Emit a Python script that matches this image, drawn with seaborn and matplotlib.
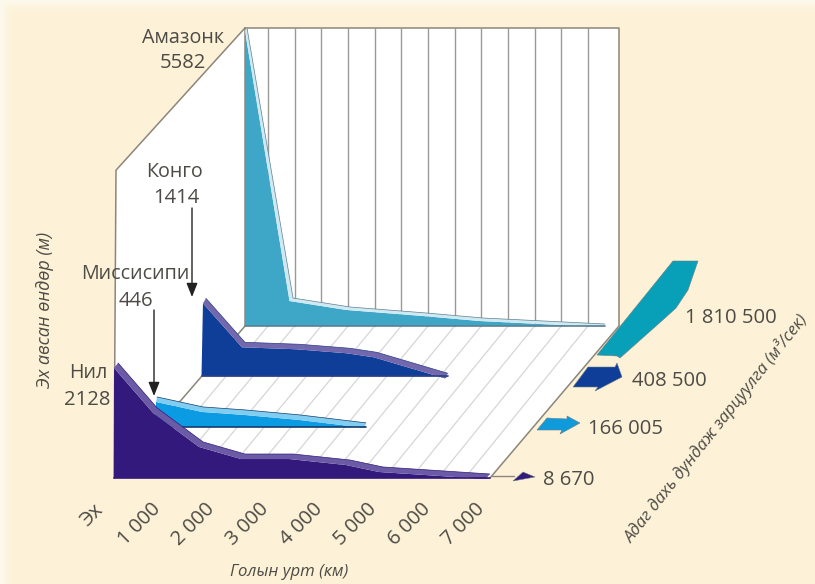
import numpy as np
import pandas as pd
import matplotlib
matplotlib.use("Agg")
import matplotlib.pyplot as plt
import seaborn as sns

# ---- data ----
river_names = ["Амазонк", "Конго", "Миссисипи", "Нил"]
river_source = ["5582", "1414", "446", "2128"]
discharge_labels = ["1 810 500", "408 500", "166 005", "8 670"]

amazon_km = [107, 970, 2040, 3480, 4530, 6820]
amazon_elev = [5520, 518, 352, 240, 148, 37]
congo_km = [127, 855, 1880, 2815, 3320, 4645]
congo_elev = [1444, 630, 593, 519, 444, 55]
miss_km = [5, 860, 1640, 2665, 3890]
miss_elev = [555, 370, 315, 222, 75]
nile_km = [75, 800, 1650, 2425, 3315, 4370, 4980, 6960]
nile_elev = [2130, 1296, 667, 444, 444, 333, 204, 74]

tick_km = [1000, 2000, 3000, 4000, 5000, 6000, 7000]
tick_labels = ["1 000", "2 000", "3 000", "4 000", "5 000", "6 000", "7 000"]
grid_km = list(range(500, 7000, 500))

# ---- oblique projection (km, metres, depth) -> canvas ----
def project(km, elev, depth):
    km, elev, depth = np.asarray(km, float), np.asarray(elev, float), np.asarray(depth, float)
    x = 114 + 127.3 * depth + (54 - 0.67 * depth) * km / 1000
    y = 478 - 152 * depth - 0.054 * elev
    return x, y

sns.set_theme(style="white")
BG = "#FDF2D8"
fig = plt.figure(figsize=(8.15, 5.84), dpi=100, facecolor=BG)
ax = fig.add_axes([0, 0, 1, 1])
ax.set_xlim(0, 815)
ax.set_ylim(584, 0)
ax.axis("off")
plt.rcParams["font.family"] = ["Open Sans", "DejaVu Sans"]

for edge_w, shade in [(12, "#FDF3DB"), (9, "#FDF4DF"), (6, "#FDF6E4"), (3, "#FDF8EC")]:
    ax.axhspan(0, edge_w, color=shade, lw=0, zorder=0)
    ax.axvspan(0, edge_w, color=shade, lw=0, zorder=0)

EDGE = "#8C867A"
GRID = "#D6D6D6"
TEXT = "#4D4B45"

# walls and floor
wx, wy = project([0, 0, 0, 0], [0, 5700, 5520, 0], [0, 0, 1, 1])
wx[1] += 2; wx[2] += 3.7; wx[3] += 3.7
ax.fill(wx, wy, color="white", lw=0, zorder=1)
fx, fy = project([0, 6963, 7082, 70], [0, 0, 0, 0], [0, 0, 1, 1])
ax.fill(fx, fy, color="white", lw=0, zorder=1)
bx, by = project([70, 7082, 7082, 70], [5520, 5520, 0, 0], [1, 1, 1, 1])
ax.fill(bx, by, color="white", lw=0, zorder=1)
ax.plot(wx[[0, 1, 2]], wy[[0, 1, 2]], color=EDGE, lw=1.1, zorder=2)
ax.plot(bx[[0, 1, 2]], by[[0, 1, 2]], color=EDGE, lw=1.1, zorder=2)
ax.plot([bx[0], bx[3]], [by[0], by[3]], color=EDGE, lw=1.1, zorder=2)
ax.plot(fx[[1, 2]], fy[[1, 2]], color=EDGE, lw=1.1, zorder=2)
ax.plot([fx[3], fx[0]], [fy[3], fy[0]], color=EDGE, lw=1.1, zorder=2)

# wall verticals and floor diagonals
rows = []
for km in grid_km:
    x0, y0 = project(km, 0, 1)
    x1, y1 = project(km, 5520, 1)
    rows += [dict(x=float(x0), y=float(y0), u=km), dict(x=float(x1), y=float(y1), u=km)]
sns.lineplot(data=pd.DataFrame(rows), x="x", y="y", units="u", estimator=None, sort=False,
             color="#9A9A96", lw=1.0, ax=ax, legend=False, zorder=2)
rows = []
for km in grid_km:
    x0, y0 = project(km, 0, 0)
    x1, y1 = project(km, 0, 1)
    rows += [dict(x=float(x0), y=float(y0), u=km), dict(x=float(x1), y=float(y1), u=km)]
sns.lineplot(data=pd.DataFrame(rows), x="x", y="y", units="u", estimator=None, sort=False,
             color=GRID, lw=0.9, ax=ax, legend=False, zorder=2)

# rivers, back to front
def river(km, elev, depth, body, band, shift, left, z, base_color):
    tx, ty = project(km, elev, depth)
    bx_ = np.maximum(tx - shift[0], left)
    by_ = ty + shift[1]
    _, base = project(0, 0, depth)
    ax.fill(np.r_[left, bx_, tx[-1]], np.r_[base, by_, base], color=body, lw=0, zorder=z)
    ax.fill(np.r_[tx, bx_[::-1]], np.r_[ty, by_[::-1]], color=band, lw=0, zorder=z + 0.1)
    ax.plot([left, tx[-1]], [base, base], color=base_color, lw=1.2, zorder=z + 0.2)
    sns.lineplot(x=tx, y=ty, sort=False, estimator=None, color=base_color, lw=0.5, ax=ax,
                 legend=False, zorder=z + 0.2)

river(amazon_km, amazon_elev, 1.0, "#3EA7C7", "#CFE9F2", (3.5, 3), 245, 3, "#5F7F90")
river(congo_km, congo_elev, 0.669, "#0F3E98", "#7367AE", (3, 5), 201.5, 4, "#2A3E88")
river(miss_km, miss_elev, 0.336, "#0A9BE2", "#7FCDF0", (1, 5), 155, 5, "#143C6E")
river(nile_km, nile_elev, 0.0, "#33197B", "#6B5AA6", (4, 5), 114, 6, "#33197B")

# discharge arrows: glyph outlines in local canvas offsets from their anchors
arrow_amazon = np.array([(0, 0), (76, -94), (101, -94), (91, -65), (79, -47), (68, -37), (23, 3), (20, 1)])
arrow_congo = np.array([(0, 0), (15, -20), (42, -20), (44, -24), (49, -10), (22, 4), (25, 0)])
arrow_miss = np.array([(0, 0), (10, -12), (30, -11), (30, -14), (43, -7), (23, 4), (25, 0)])
arrow_nile = np.array([(0, 0), (10, -9), (22, -4)])
for shape, anchor, col in [(arrow_amazon, (597, 355), "#07A0B8"), (arrow_congo, (573, 387), "#0F3E98"),
                           (arrow_miss, (537, 430), "#0F9BDB"), (arrow_nile, (513, 481), "#33197B")]:
    ax.fill(shape[:, 0] + anchor[0], shape[:, 1] + anchor[1], color=col, ec="#6C7C84", lw=0.4, zorder=7)
ax.plot([492, 514], [476, 476], color=EDGE, lw=1, zorder=6)

# labels
kw = dict(color=TEXT, ha="center", va="center", fontsize=14.2, zorder=9)
num = {**kw, "fontsize": 14.6}
for name, val, (nx, ny), (vx, vy) in zip(river_names, river_source,
        [(183, 38), (175, 172), (135, 274), (88, 373)], [(183, 63), (176, 198), (136, 301), (87.5, 400)]):
    ax.text(nx, ny, name, **kw)
    ax.text(vx, vy, val, **num)
for lab, pos in zip(discharge_labels, [(731, 318), (669.5, 381), (625, 429), (568.5, 480)]):
    ax.text(*pos, lab, **num)

for km, lab in zip(tick_km, tick_labels):
    tx, _ = project(km, 0, 0)
    ax.text(float(tx) - 28.5, 524, lab, rotation=45, **{**kw, "fontsize": 14.5})
ax.text(92, 515, "Эх", rotation=45, **{**kw, "fontsize": 14.5})

ital = dict(color=TEXT, ha="center", va="center", style="italic", fontsize=12.1, zorder=9)
ax.text(289, 572, "Голын урт (км)", **ital)
ax.text(45, 310, "Эх авсан өндөр (м)", rotation=90, **{**ital, "fontsize": 13})
ax.text(716, 428, "Адаг дахь дундаж зарцуулга (м³/сек)", rotation=51.7, **{**ital, "fontsize": 12.2})

for (x, y0, y1) in [(192, 208, 297), (154, 310, 396)]:
    ax.annotate("", xy=(x, y1), xytext=(x, y0), zorder=9,
                arrowprops=dict(arrowstyle="-|>,head_width=0.28,head_length=0.7", color="#222222", lw=1.0,
                                shrinkA=0, shrinkB=0))

fig.savefig("out.png", dpi=100, facecolor=BG)
